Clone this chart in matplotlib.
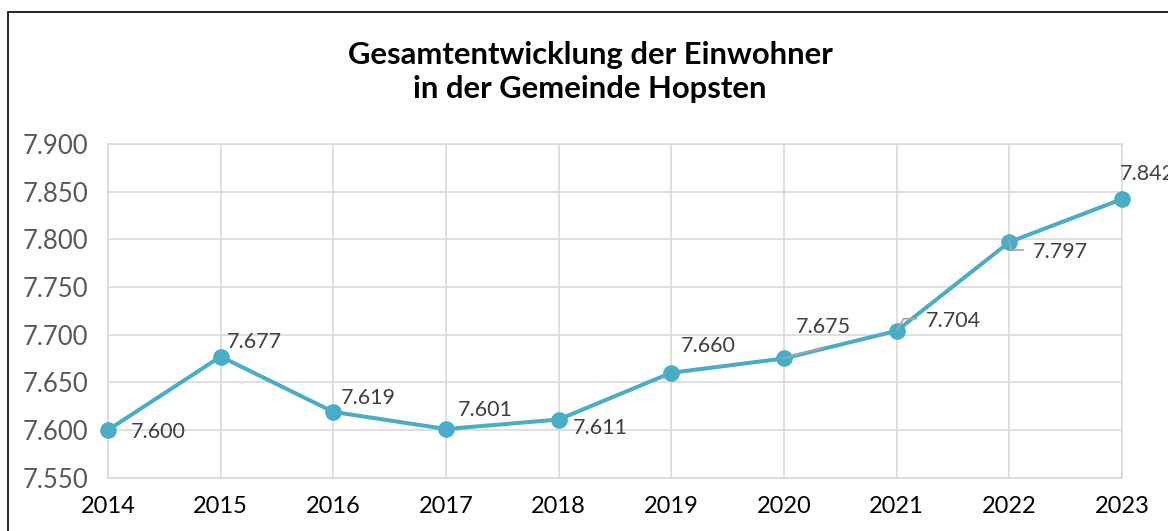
import matplotlib
matplotlib.use("Agg")
import matplotlib.pyplot as plt
from matplotlib.patches import Rectangle

years = [2014, 2015, 2016, 2017, 2018, 2019, 2020, 2021, 2022, 2023]
einwohner = [7600, 7677, 7619, 7601, 7611, 7660, 7675, 7704, 7797, 7842]
ytick_vals = [7550, 7600, 7650, 7700, 7750, 7800, 7850, 7900]


def fmt(v):
    return f"{v/1000:.3f}"


plt.rcParams['font.family'] = ['Lato', 'DejaVu Sans']
W, H = 1168, 531
fig = plt.figure(figsize=(W/100, H/100), dpi=100)
fig.patch.set_facecolor('white')

# outer chart border (cropped on right and bottom)
fig.patches.append(Rectangle((7.5/W, -0.1), 1.2, 1 - 12/H + 0.1, transform=fig.transFigure,
                             fill=False, edgecolor='black', linewidth=1.2))

left, right = 108/W, 1122/W
bottom, top = 1 - 477.7/H, 1 - 143.8/H
ax = fig.add_axes([left, bottom, right-left, top-bottom])
ax.set_xlim(years[0], years[-1])
ax.set_ylim(ytick_vals[0], ytick_vals[-1])
ax.set_xticks(years)
ax.set_xticklabels([str(y) for y in years])
ax.set_yticks(ytick_vals)
ax.set_yticklabels([fmt(v) for v in ytick_vals])
ax.grid(True, color='#D9D9D9', linewidth=1.2)
ax.set_axisbelow(True)
for s in ax.spines.values():
    s.set_color('#D9D9D9')
    s.set_linewidth(1.2)
ax.tick_params(axis='both', length=0)
ax.tick_params(axis='y', labelsize=18.5, labelcolor='#595959', pad=14)
ax.tick_params(axis='x', labelsize=17, labelcolor='#000000', pad=13)

ax.plot(years, einwohner, color='#4BACC6', linewidth=2.9, marker='o', markersize=11,
        clip_on=False, zorder=3)

px = 0.72  # points per pixel
# label offsets (pixels, right / down) relative to each point
offsets = [(50, 2), (34, -15), (35, -14), (39, -19), (42, 8), (37, -27), (39, -31),
           (57, -10), (51, 10), (25, -25)]
for x, v, (dx, dy) in zip(years, einwohner, offsets):
    ax.annotate(fmt(v), xy=(x, v), xytext=(dx*px, -dy*px), textcoords='offset points',
                ha='center', va='center', fontsize=15.5, color='#404040',
                annotation_clip=False, zorder=4)

# leader lines (pixel offsets, right / down)
leaders = {6: [(0, 0), (39, -11)], 7: [(1, -2), (7, -12), (20, -12)], 8: [(0, -1), (2, 8), (14, 8)]}
fig.canvas.draw()
for i, pts in leaders.items():
    cx, cy = ax.transData.transform((years[i], einwohner[i]))
    fx = [(cx + dx)/W for dx, dy in pts]
    fy = [(cy - dy)/H for dx, dy in pts]
    fig.add_artist(plt.Line2D(fx, fy, transform=fig.transFigure, color='#A6A6A6',
                              linewidth=1.2, zorder=2))

fig.text(590/W, 1 - 72/H, "Gesamtentwicklung der Einwohner\nin der Gemeinde Hopsten",
         ha='center', va='center', fontsize=22.3, fontweight='bold', color='black', linespacing=1.25)

fig.savefig('out.png', dpi=100)
